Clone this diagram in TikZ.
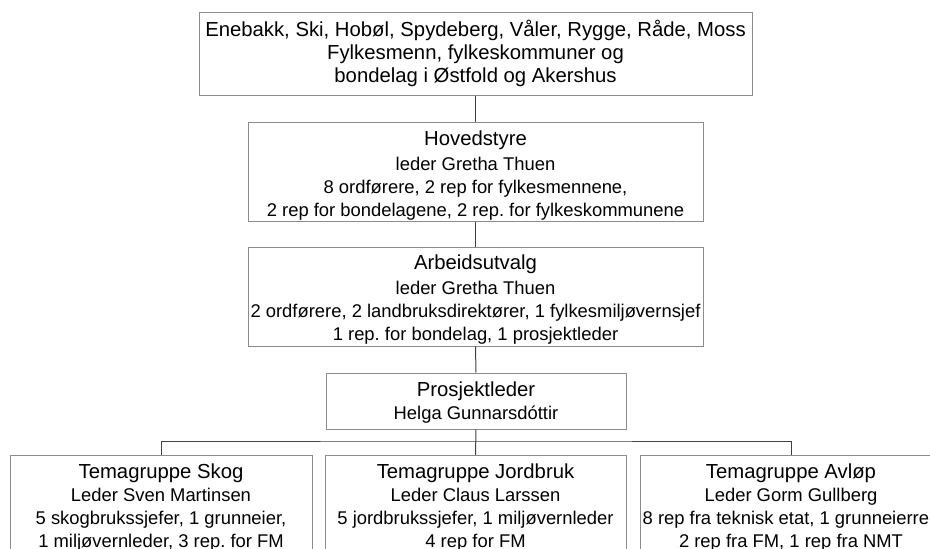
\documentclass[tikz,border=0pt]{standalone}
\usepackage{fontspec}
\setmainfont{Liberation Sans}
\frenchspacing
\begin{document}
\begin{tikzpicture}[x=1pt,y=-1pt,
  box/.style={draw=boxgray, line width=1pt, inner sep=0pt, anchor=center},
  txt/.style={align=center, inner sep=0pt, anchor=center, font=\fontsize{20.3}{23}\selectfont},
  conn/.style={draw=conngray, line width=1pt},
]
\definecolor{boxgray}{RGB}{140,140,140}
\definecolor{conngray}{RGB}{64,64,64}
\newcommand{\bodytxt}{\fontsize{18.4}{22.5}\selectfont}
\useasboundingbox (0,0) rectangle (930,549);
\clip (0,0) rectangle (930,549);
\fill[white] (0,0) rectangle (930,549);

\node[box, minimum width=553, minimum height=83] (top) at (475.5,53.5) {};
\node[txt] (toptxt) at (top.center)
  {Enebakk, Ski, Hobøl, Spydeberg, Våler, Rygge, Råde, Moss\\Fylkesmenn, fylkeskommuner og\\bondelag i Østfold og Akershus};

\node[box, minimum width=455, minimum height=99] (hoved) at (475.5,171.5) {};
\node[txt] (hovedtxt) at ([yshift=-4pt]hoved.center)
  {Hovedstyre\\[2pt]{\bodytxt leder Gretha Thuen}\\{\bodytxt 8 ordførere, 2 rep for fylkesmennene,}\\{\bodytxt 2 rep for bondelagene, 2 rep. for fylkeskommunene}};

\node[box, minimum width=455, minimum height=99] (arb) at (475.5,296.5) {};
\node[txt] (arbtxt) at ([yshift=-3pt]arb.center)
  {Arbeidsutvalg\\[2pt]{\bodytxt leder Gretha Thuen}\\{\bodytxt 2 ordførere, 2 landbruksdirektører, 1 fylkesmiljøvernsjef}\\{\bodytxt 1 rep. for bondelag, 1 prosjektleder}};

\node[box, minimum width=300, minimum height=56] (prosj) at (476,401) {};
\node[txt] (prosjtxt) at ([yshift=-2pt]prosj.center)
  {Prosjektleder\\{\bodytxt Helga Gunnarsdóttir}};

\node[box, minimum width=302, minimum height=105, anchor=north] (skog) at (161,455) {};
\node[txt, anchor=north] (skogtxt) at ([yshift=-9pt]skog.north)
  {Temagruppe Skog\\{\bodytxt Leder Sven Martinsen}\\{\bodytxt 5 skogbrukssjefer, 1 grunneier,}\\{\bodytxt 1 miljøvernleder, 3 rep. for FM}};

\node[box, minimum width=301, minimum height=105, anchor=north] (jord) at (475.5,455) {};
\node[txt, anchor=north] (jordtxt) at ([yshift=-9pt]jord.north)
  {Temagruppe Jordbruk\\{\bodytxt Leder Claus Larssen}\\{\bodytxt 5 jordbrukssjefer, 1 miljøvernleder}\\{\bodytxt 4 rep for FM}};

\node[box, minimum width=302, minimum height=105, anchor=north] (avlop) at (791,455) {};
\node[txt, anchor=north] (avloptxt) at ([yshift=-9pt]avlop.north)
  {Temagruppe Avløp\\{\bodytxt Leder Gorm Gullberg}\\{\bodytxt 8 rep fra teknisk etat, 1 grunneierrep}\\{\bodytxt 2 rep fra FM, 1 rep fra NMT}};

\coordinate (bus) at (476,441);

\draw[conn] (top.south) -- (hoved.north);
\draw[conn] (hoved.south) -- (arb.north);
\draw[conn] (arb.south) -- (prosj.north);
\draw[conn] (prosj.south) -- (jord.north);
\draw[conn] (skog.north) |- (bus) -| (avlop.north);
\end{tikzpicture}
\end{document}
